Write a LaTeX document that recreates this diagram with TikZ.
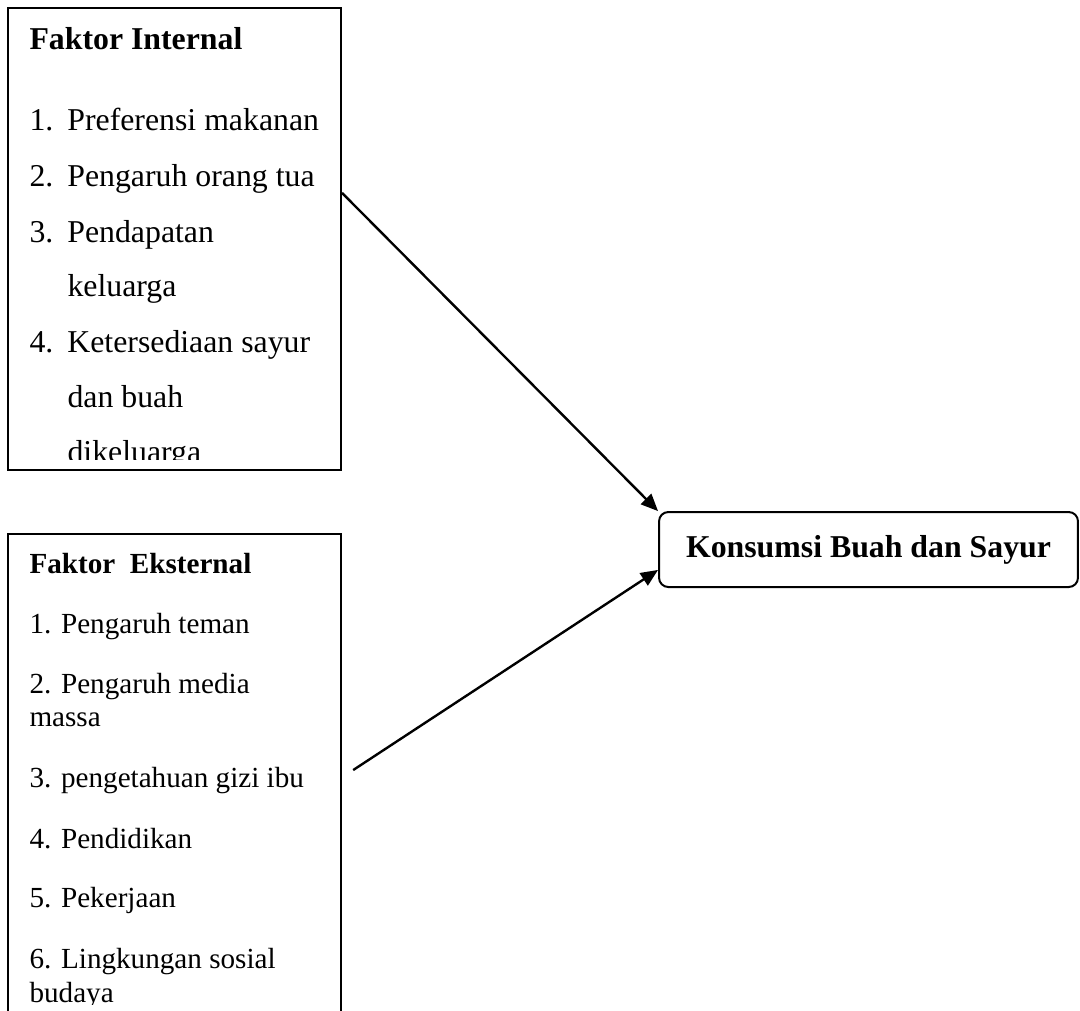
\documentclass[tikz,border=0pt]{standalone}
\usepackage{fontspec}
\setmainfont{Liberation Serif}
\usetikzlibrary{arrows.meta}
\newcommand\itemnum[1]{\makebox[14.3pt][l]{#1}}
\begin{document}
\begin{tikzpicture}[x=0.3774pt,y=-0.3774pt,
  boxline/.style={draw=black, line width=0.75pt, inner sep=0pt},
  txt/.style={anchor=base west, inner sep=0pt, font=\fontsize{12}{14}\selectfont},
  txts/.style={anchor=base west, inner sep=0pt, font=\fontsize{11}{13}\selectfont},
  arr/.style={line width=0.9pt, -{Triangle[length=6.5pt,width=5.5pt]}}]
\useasboundingbox (0,0) rectangle (1080,1010);
\clip (0,0) rectangle (1080,1010);
\fill[white] (0,0) rectangle (1080,1010);

% boxes
\node[boxline, minimum width=125.7pt, minimum height=174.3pt] (internal) at (174.5,239) {};
\node[boxline, minimum width=125.7pt, minimum height=191pt] (external) at (174.5,787) {};
\node[boxline, rounded corners=3.5pt, minimum width=158.1pt, minimum height=28.3pt,
      font=\fontsize{12}{14}\selectfont\bfseries] (konsumsi) at (868.5,549.5) {Konsumsi Buah dan Sayur};

% internal texts
\begin{scope}
\clip (8,8) rectangle (341,459);
\node[txt, font=\fontsize{12}{14}\selectfont\bfseries] (it0) at (29,49) {Faktor Internal};
\node[txt] (it1) at (29,130) {\itemnum{1.}Preferensi makanan};
\node[txt] (it2) at (29,186) {\itemnum{2.}Pengaruh orang tua};
\node[txt] (it3) at (29,242) {\itemnum{3.}Pendapatan};
\node[txt] (it3b) at (67,296) {keluarga};
\node[txt] (it4) at (29,352) {\itemnum{4.}Ketersediaan sayur};
\node[txt] (it4b) at (67,407) {dan buah};
\node[txt] (it4c) at (67,462) {dikeluarga};
\end{scope}

% external texts
\begin{scope}
\clip (8,534) rectangle (341,1004);
\node[txts, font=\fontsize{11}{13}\selectfont\bfseries] (ex0) at (29,573) {Faktor\ \ Eksternal};
\node[txts] (ex1) at (29,633) {1. Pengaruh teman};
\node[txts] (ex2) at (29,693) {2. Pengaruh media};
\node[txts] (ex2b) at (29,726) {massa};
\node[txts] (ex3) at (29,787) {3. pengetahuan gizi ibu};
\node[txts] (ex4) at (29,848) {4. Pendidikan};
\node[txts] (ex5) at (29,907) {5. Pekerjaan};
\node[txts] (ex6) at (29,968) {6. Lingkungan sosial};
\node[txts] (ex6b) at (29,1002) {budaya};
\end{scope}

% connectors
\draw[arr] ([yshift=17.4pt]internal.east) -- ([yshift=14.5pt]konsumsi.west);
\draw[arr] ([xshift=4.2pt,yshift=6.4pt]external.east) -- ([yshift=-7.7pt]konsumsi.west);
\end{tikzpicture}
\end{document}
